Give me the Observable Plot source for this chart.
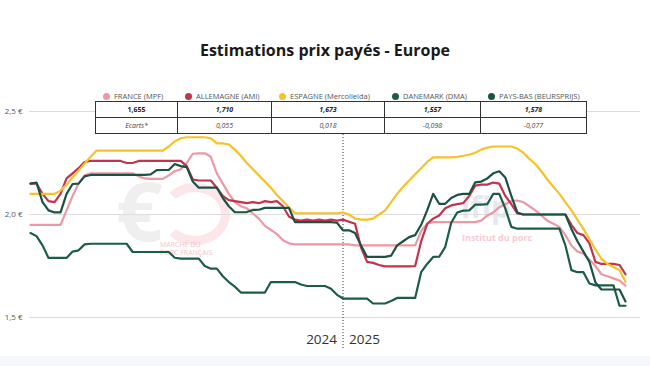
<!DOCTYPE html>
<html><head><meta charset="utf-8">
<script src="https://cdn.jsdelivr.net/npm/d3@7"></script>
<script src="https://cdn.jsdelivr.net/npm/@observablehq/plot@0.6"></script>
<style>
body{margin:0;background:#fff;font-family:"Open Sans",sans-serif;}
#wrap{position:relative;width:650px;height:366px;overflow:hidden;background:#fff;}
#title{position:absolute;top:42px;left:0;width:650px;text-align:center;font-weight:700;font-size:16px;line-height:16px;color:#1a1a1a;}
#chart{position:absolute;top:0;left:0;}
#legend{position:absolute;top:91px;left:95px;display:flex;height:10px;}
.li{display:flex;align-items:center;font-size:7.5px;line-height:10px;color:#555;white-space:nowrap;}
.dot{width:7px;height:7px;border-radius:50%;margin:0 4px 0 8px;flex:none;}
#tbl{position:absolute;top:101px;left:95px;border-collapse:collapse;background:#fff;table-layout:fixed;}
#tbl td{border:1px solid #333;height:15px;line-height:15px;padding:0;text-align:center;font-size:7px;color:#222;}
#tbl tr.v td{font-weight:700;font-style:italic;}
#tbl tr.v td:first-child{font-style:normal;}
#tbl tr.e td{font-style:italic;color:#444;}
.wm{position:absolute;pointer-events:none;white-space:nowrap;}
#band{position:absolute;left:0;top:356px;width:650px;height:10px;background:#f6f7fa;}
</style></head>
<body>
<div id="wrap">
  <div class="wm" style="left:116px;top:168px;font-size:82px;line-height:82px;color:#efefef;font-weight:700;">€</div>
  <div class="wm" style="left:160px;top:183px;width:52px;height:44px;border:9px solid #fce6e9;border-left-color:transparent;border-radius:50%;"></div>
  <div class="wm" style="left:160px;top:241px;font-size:7px;line-height:8px;color:#f0c4cb;">MARCHÉ DU<br>PORC FRANÇAIS</div>
  <div class="wm" style="left:461px;top:193px;font-size:30px;line-height:28px;font-weight:700;color:#e5e9ef;">ifip</div>
  <div class="wm" style="left:462px;top:233px;font-size:9px;line-height:10px;font-weight:700;color:#f5cdd3;">Institut du porc</div>
  <div id="chart"></div>
  <div id="title"></div>
  <div id="legend"></div>
  <table id="tbl"></table>
  <div id="band"></div>
</div>
<script>
// ---- data (weekly, index 0 = first week of 2024, 52 = first week of 2025) ----
const seriesNames = ["FRANCE (MPF)", "ALLEMAGNE (AMI)", "ESPAGNE (Mercolleida)", "DANEMARK (DMA)", "PAYS-BAS (BEURSPRIJS)"];
const seriesColors = ["#ec98a5", "#c1344e", "#f5c228", "#1d5c47", "#1b5242"];
const yearLabels = ["2024", "2025"];
const yearStartIndex = 52;
const yTicks = [1.5, 2.0, 2.5];
const ecartsLabel = "Ecarts*";
const titleText = "Estimations prix payés - Europe";

const france = [1.95,1.95,1.95,1.95,1.95,1.95,2.02,2.09,2.15,2.19,2.20,
  2.20,2.20,2.20,2.20,2.20,2.20,2.20,
  2.185,2.175,2.173,2.173,2.173,2.19,2.21,2.22,2.25,2.295,2.297,2.297,2.28,2.2,2.15,2.1,2.06,2.04,2.03,2.005,1.98,1.945,1.925,1.905,1.875,1.86,
  1.855,1.855,1.855,1.855,1.855,1.855,1.855,1.855,1.855,
  1.855,1.85,1.85,1.85,1.85,1.85,1.85,1.85,1.85,1.85,1.85,1.85,
  1.92,1.955,1.963,1.963,1.963,1.963,1.963,1.963,1.963,1.963,
  1.97,1.995,2.01,2.035,2.05,2.065,2.068,2.06,2.04,2.02,1.995,1.97,1.955,1.94,1.90,1.85,1.82,1.81,1.78,1.75,1.71,1.70,1.69,1.68,1.655];

const allemagne = [2.15,2.15,2.10,2.065,2.06,2.10,2.175,2.20,2.225,2.255,2.26,
  2.26,2.26,2.26,2.26,2.26,2.25,2.25,2.26,2.26,2.26,2.26,2.26,2.26,2.26,2.26,
  2.235,2.17,2.165,2.165,2.165,2.13,2.09,2.07,2.065,2.06,2.055,2.06,2.055,2.065,2.06,2.065,2.04,1.99,1.975,1.97,1.975,1.97,1.975,1.97,1.975,1.97,1.975,1.965,1.955,1.84,1.77,1.765,1.755,1.748,
  1.748,1.748,1.748,1.748,
  1.75,1.87,1.955,1.98,1.995,2.03,2.044,2.05,2.055,2.09,2.14,2.145,2.145,2.155,2.15,2.09,2.05,2.005,
  2.0,2.0,2.0,2.0,2.0,2.0,2.0,2.0,
  1.95,1.91,1.90,1.86,1.77,1.76,1.76,1.76,1.755,1.71];

const espagne = [2.10,2.10,2.10,2.10,2.10,2.116,2.145,2.18,2.213,2.247,2.28,
  2.31,2.31,2.31,2.31,2.31,2.31,2.31,2.31,2.31,2.31,2.31,2.31,
  2.33,2.355,2.37,2.375,2.375,2.375,2.375,
  2.37,2.345,2.345,2.34,2.315,2.285,2.25,2.22,2.19,2.16,2.13,2.095,2.065,2.035,
  2.006,2.006,2.006,2.006,2.006,2.006,2.006,2.006,
  2.01,2.00,1.98,1.975,1.975,1.98,2.0,2.02,2.06,2.10,2.135,2.165,2.195,2.225,2.255,2.277,
  2.277,2.277,2.277,2.28,2.285,2.29,2.30,2.315,2.325,2.33,2.33,2.33,2.33,
  2.32,2.30,2.27,2.245,2.21,2.17,2.135,2.10,2.06,2.02,1.975,1.93,1.88,1.83,1.785,1.76,1.745,1.73,1.673];

const danemark = [1.91,1.895,1.85,1.789,1.789,1.789,1.789,1.82,1.826,1.855,
  1.858,1.858,1.858,1.858,1.858,1.858,1.858,1.818,1.818,1.818,1.818,1.818,1.818,1.818,
  1.79,1.786,1.786,1.786,1.786,1.75,1.737,1.737,1.70,1.672,1.65,1.621,1.621,1.621,1.621,1.621,
  1.672,1.672,1.672,1.672,1.672,1.66,1.653,1.653,1.653,1.653,1.64,1.61,
  1.592,1.592,1.592,1.592,1.592,1.568,1.568,1.568,1.58,1.595,1.595,1.595,1.595,
  1.72,1.76,1.794,1.795,1.842,1.96,2.01,2.019,2.02,2.048,2.048,2.05,2.10,2.10,2.03,1.94,1.931,
  1.931,1.931,1.931,1.931,1.931,1.931,1.931,
  1.85,1.73,1.72,1.72,1.665,1.656,1.656,1.656,1.656,1.557,1.557];

const paysBas = [2.15,2.155,2.06,2.02,2.01,2.01,2.10,2.148,2.15,2.185,2.192,
  2.192,2.192,2.192,2.192,2.192,2.192,2.192,2.192,2.192,
  2.195,2.215,2.216,2.216,2.245,2.235,2.23,2.16,2.13,2.13,2.13,2.13,
  2.08,2.04,2.011,2.011,2.012,2.022,2.023,2.032,2.032,2.032,2.032,2.032,
  1.963,1.963,1.963,1.963,1.963,1.963,1.963,1.96,1.923,1.923,1.91,1.85,1.794,1.794,1.794,1.794,
  1.80,1.85,1.87,1.89,1.90,1.95,2.02,2.10,2.052,2.052,2.08,2.095,2.10,2.10,2.156,2.16,2.175,2.20,2.21,2.18,2.09,2.01,
  2.0,2.0,2.0,2.0,2.0,2.0,2.0,2.0,
  1.93,1.87,1.82,1.77,1.67,1.636,1.636,1.636,1.636,1.578];

const seriesValues = [france, allemagne, espagne, danemark, paysBas];

// ---- build long table ----
const rows = [];
seriesValues.forEach((arr, s) => arr.forEach((v, i) => rows.push({series: seriesNames[s], i, v})));
const lastValues = seriesValues.map(a => a[a.length - 1]);
const fmt3 = v => v.toFixed(3).replace(".", ",");
const n = france.length;

// ---- title, legend, table ----
document.getElementById("title").textContent = titleText;
const colWidths = [82, 94, 113, 96, 106];
const legend = document.getElementById("legend");
seriesNames.forEach((name, k) => {
  const d = document.createElement("div");
  d.className = "li"; d.style.width = colWidths[k] + "px";
  d.innerHTML = `<span class="dot" style="background:${seriesColors[k]}"></span><span>${name}</span>`;
  legend.appendChild(d);
});
const tbl = document.getElementById("tbl");
const r1 = document.createElement("tr"); r1.className = "v";
const r2 = document.createElement("tr"); r2.className = "e";
lastValues.forEach((v, k) => {
  const c1 = document.createElement("td"); c1.style.width = (colWidths[k] - 1) + "px"; c1.textContent = fmt3(v); r1.appendChild(c1);
  const c2 = document.createElement("td"); c2.style.width = (colWidths[k] - 1) + "px";
  c2.textContent = k === 0 ? ecartsLabel : fmt3(v - lastValues[0]);
  r2.appendChild(c2);
});
tbl.appendChild(r1); tbl.appendChild(r2);

// ---- chart ----
const chart = Plot.plot({
  width: 650, height: 366,
  marginTop: 111, marginBottom: 49, marginLeft: 30, marginRight: 25,
  style: {background: "transparent", fontFamily: "Open Sans, sans-serif"},
  x: {domain: [0, n - 1], axis: null},
  y: {domain: [1.5, 2.5], axis: null},
  color: {domain: seriesNames, range: seriesColors},
  marks: [
    Plot.ruleY(yTicks, {stroke: "#dcdcdc", strokeWidth: 1, insetLeft: -1, insetRight: -15}),
    Plot.axisY(yTicks, {tickSize: 0, tickPadding: 8, fontSize: 8, fill: "#555", label: null,
      tickFormat: d => d.toFixed(1).replace(".", ",") + " €"}),
    Plot.ruleX([yearStartIndex], {stroke: "#333", strokeWidth: 1, strokeDasharray: "1,2", insetTop: 23, insetBottom: -33}),
    Plot.text([yearLabels[0]], {x: yearStartIndex, frameAnchor: "bottom", dy: 26, dx: -6, textAnchor: "end", fontSize: 13.5, fill: "#333"}),
    Plot.text([yearLabels[1]], {x: yearStartIndex, frameAnchor: "bottom", dy: 26, dx: 6, textAnchor: "start", fontSize: 13.5, fill: "#333"}),
    Plot.line(rows, {x: "i", y: "v", z: "series", stroke: "series", strokeWidth: 2.2, strokeLinejoin: "round"})
  ]
});
document.getElementById("chart").appendChild(chart);
</script>
</body></html>
